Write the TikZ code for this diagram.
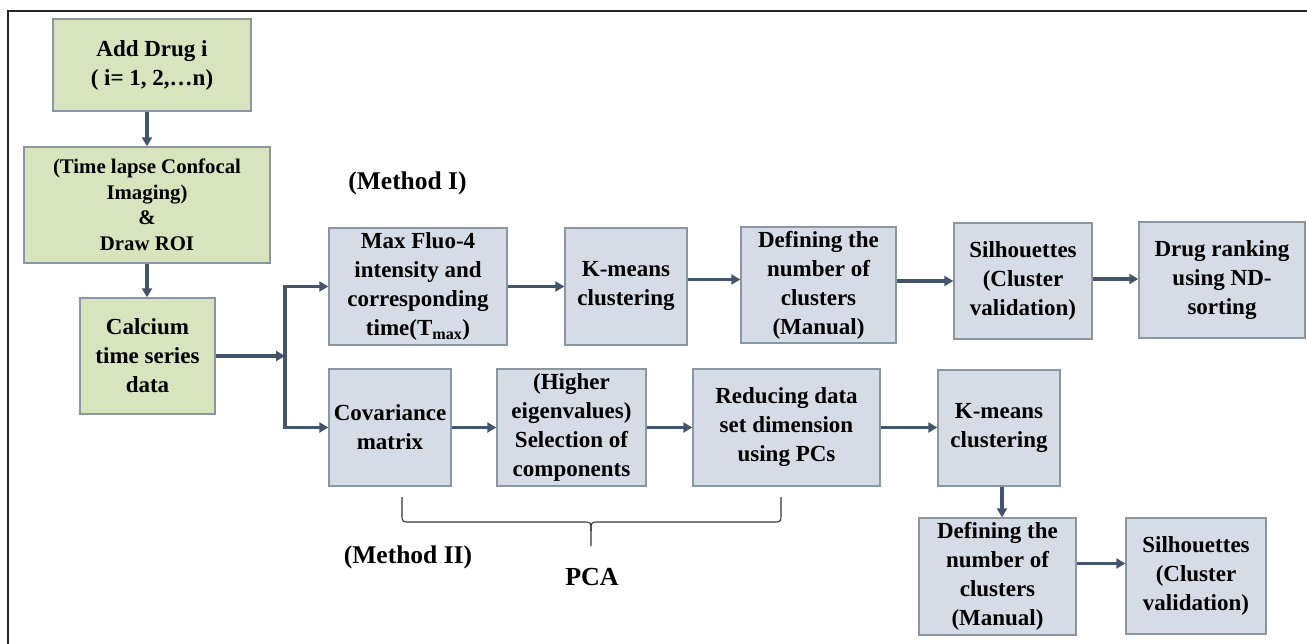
\documentclass[tikz,border=0pt]{standalone}
\usepackage{fontspec}
\setmainfont{Liberation Serif}
\usetikzlibrary{arrows.meta,calc}
\definecolor{gfill}{HTML}{D7E4BD}
\definecolor{bfill}{HTML}{D6DCE5}
\definecolor{bdraw}{HTML}{8A97A3}
\definecolor{arrc}{HTML}{44546A}
\tikzset{
  base/.style={draw=bdraw,line width=1.4pt,align=center,inner sep=2pt,
    font=\fontsize{23}{29}\selectfont\bfseries},
  gbox/.style={base,fill=gfill},
  bbox/.style={base,fill=bfill},
  arr/.style={draw=arrc,line width=3.2pt,-{Triangle[length=9pt,width=10pt]}},
  lbl/.style={font=\fontsize{25.5}{29}\selectfont\bfseries,inner sep=0pt},
}
\newcommand{\bx}[6]{% name, style, cx, cy, w, h, text follows
  \node[#2,minimum width=#5pt,minimum height=#6pt] (#1) at (#3,#4)}
\begin{document}
\begin{tikzpicture}[x=1pt,y=-1pt]
\useasboundingbox (0,0) rectangle (1307,644);
\begin{scope}
\clip (0,0) rectangle (1307,644);
\draw[line width=1.1pt,black!85] (8,11) rectangle (1330,670);
\end{scope}

\bx{add}{gbox}{152}{65}{198}{92} {Add Drug i\\( i= 1, 2,\ldots n)};
\bx{time}{gbox,font=\fontsize{20.8}{25.5}\selectfont\bfseries}{147}{205}{246}{116} {(Time lapse Confocal\\Imaging)\\\&\\Draw ROI};
\bx{calc}{gbox}{147.5}{356}{135}{116} {Calcium\\time series\\data};

\bx{maxf}{bbox}{418}{286.5}{178}{117} {Max Fluo-4\\intensity and\\corresponding\\time(T\textsubscript{max})};
\bx{kmone}{bbox}{626}{286.5}{122}{117} {K-means\\clustering};
\bx{defone}{bbox}{818.5}{285}{155}{116} {Defining the\\number of\\clusters\\(Manual)};
\bx{silone}{bbox}{1023}{281}{138}{116} {Silhouettes\\(Cluster\\validation)};
\bx{drug}{bbox}{1222}{280}{166}{116} {Drug ranking\\using ND-\\sorting};

\bx{cov}{bbox}{390}{427.5}{122}{117} {Covariance\\matrix};
\bx{sel}{bbox}{571.5}{427.5}{149}{117} {(Higher\\eigenvalues)\\Selection of\\components};
\bx{red}{bbox}{786.5}{427.5}{187}{117} {Reducing data\\set dimension\\using PCs};
\bx{kmtwo}{bbox}{999}{428}{122}{116} {K-means\\clustering};
\bx{deftwo}{bbox}{997.5}{576.5}{157}{117} {Defining the\\number of\\clusters\\(Manual)};
\bx{siltwo}{bbox}{1196}{576}{140}{116} {Silhouettes\\(Cluster\\validation)};

\node[lbl] (mone) at (407.5,183) {(Method I)};
\node[lbl] (mtwo) at (408,557) {(Method II)};
\node[lbl,font=\fontsize{26}{29}\selectfont\bfseries] (pca) at (592,577) {PCA};

% vertical arrows
\draw[arr] (add.south -| time.north) -- (time.north);
\draw[arr] (time.south) -- (time.south |- calc.north);

% junction
\coordinate (jn) at (285,356);
\draw[arr] (calc.east) -- (jn);
\draw[arr] (jn) |- (maxf.west);
\draw[arr] (jn) |- (cov.west);

% top row
\draw[arr] (maxf.east) -- (maxf.east -| kmone.west);
\coordinate (ka) at ($(kmone.east)+(0,-7)$);
\draw[arr] (ka) -- (ka -| defone.west);
\coordinate (da) at ($(defone.east)+(0,-4)$);
\draw[arr] (da) -- (da -| silone.west);
\coordinate (sa) at ($(silone.east)+(0,-2)$);
\draw[arr] (sa) -- (sa -| drug.west);

% bottom row
\draw[arr] (cov.east) -- (cov.east -| sel.west);
\draw[arr] (sel.east) -- (sel.east -| red.west);
\draw[arr] (red.east) -- (red.east -| kmtwo.west);
\coordinate (kb) at ($(kmtwo.south)+(3,0)$);
\draw[arr] (kb) -- (kb |- deftwo.north);
\coordinate (db) at ($(deftwo.east)+(0,-13)$);
\draw[arr] (db) -- (db -| siltwo.west);

% PCA brace
\draw[line width=1.1pt,black!80]
  (402,497) -- (402,514) .. controls (402,522) .. (410,522) -- (583,522)
  .. controls (591,522) .. (591,531) -- (591,546);
\draw[line width=1.1pt,black!80]
  (591,531) .. controls (591,522) .. (599,522) -- (773,522)
  .. controls (781,522) .. (781,514) -- (781,497);
\end{tikzpicture}
\end{document}
